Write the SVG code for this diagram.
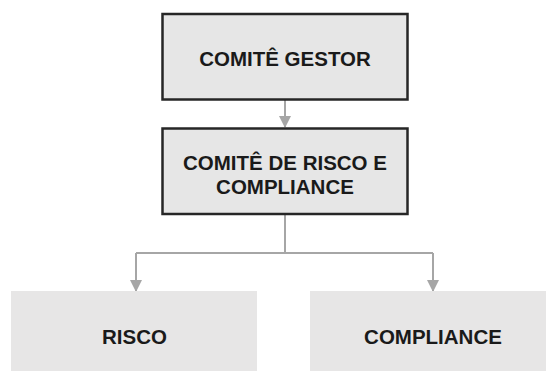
<svg xmlns="http://www.w3.org/2000/svg" width="546" height="371" viewBox="0 0 546 371">
  <style>
    .box { fill: #e6e6e6; stroke: #262626; stroke-width: 2.5; }
    .leaf { fill: #e7e6e6; }
    .lbl { font-family: "Liberation Sans", Arial, sans-serif; font-weight: bold; font-size: 20.5px; fill: #1a1a1a; text-anchor: middle; }
    .conn { fill: none; stroke: #a6a6a6; stroke-width: 2; }
  </style>
  <defs>
    <marker id="arr" markerWidth="12" markerHeight="12" refX="11" refY="6" orient="auto" markerUnits="userSpaceOnUse">
      <path d="M0,0 L12,6 L0,12 Z" fill="#a6a6a6"/>
    </marker>
  </defs>
  <rect width="546" height="371" fill="#ffffff"/>
  <g id="connectors">
    <path class="conn" d="M285,100 L285,127" marker-end="url(#arr)"/>
    <path class="conn" d="M285,214 L285,253"/>
    <path class="conn" d="M136,253 L433,253"/>
    <path class="conn" d="M136,253 L136,291" marker-end="url(#arr)"/>
    <path class="conn" d="M433,253 L433,291" marker-end="url(#arr)"/>
  </g>
  <g id="comite-gestor">
    <rect class="box" x="162.5" y="14" width="245" height="85.5"/>
    <text class="lbl" x="285" y="65.5">COMITÊ GESTOR</text>
  </g>
  <g id="comite-risco-compliance">
    <rect class="box" x="162.5" y="128.5" width="245" height="85.5"/>
    <text class="lbl" x="285" y="170">COMITÊ DE RISCO E</text>
    <text class="lbl" x="285" y="193.5">COMPLIANCE</text>
  </g>
  <g id="risco">
    <rect class="leaf" x="11" y="291" width="246" height="90"/>
    <text class="lbl" x="134.5" y="344">RISCO</text>
  </g>
  <g id="compliance">
    <rect class="leaf" x="310" y="291" width="246" height="90"/>
    <text class="lbl" x="433" y="344">COMPLIANCE</text>
  </g>
</svg>
